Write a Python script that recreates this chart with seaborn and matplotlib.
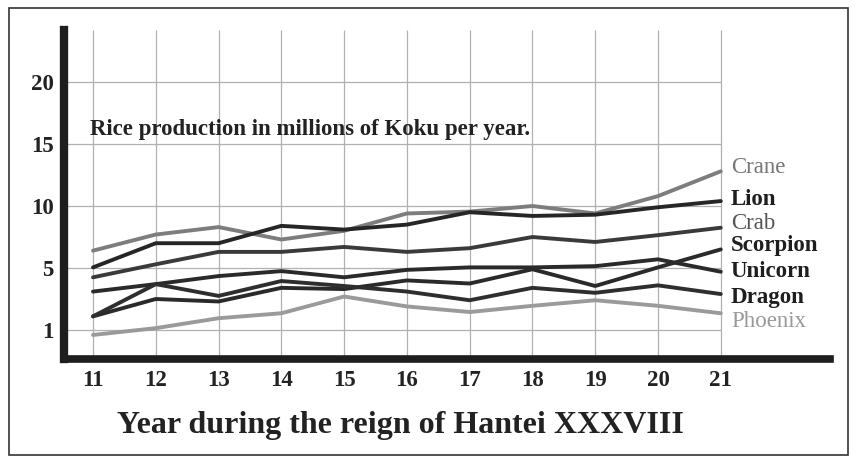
import pandas as pd
import matplotlib.pyplot as plt
import seaborn as sns
from matplotlib.patches import Rectangle

# years of the reign
years = [11, 12, 13, 14, 15, 16, 17, 18, 19, 20, 21]
crane = [6.4, 7.7, 8.3, 7.3, 8.0, 9.4, 9.55, 10.0, 9.4, 10.8, 12.8]
lion = [5.05, 7.0, 7.0, 8.4, 8.1, 8.5, 9.5, 9.2, 9.3, 9.9, 10.4]
crab = [4.25, 5.3, 6.3, 6.3, 6.7, 6.3, 6.6, 7.5, 7.1, 7.65, 8.25]
scorpion = [1.1, 2.5, 2.3, 3.4, 3.3, 4.0, 3.75, 4.9, 3.55, 5.05, 6.5]
unicorn = [3.1, 3.7, 4.35, 4.75, 4.25, 4.85, 5.05, 5.05, 5.15, 5.7, 4.7]
dragon = [1.1, 3.7, 2.75, 3.95, 3.55, 3.1, 2.4, 3.4, 3.0, 3.6, 2.9]
phoenix = [-0.4, 0.15, 0.95, 1.35, 2.7, 1.9, 1.45, 1.95, 2.4, 1.95, 1.35]

clans = ["Crane", "Lion", "Crab", "Scorpion", "Unicorn", "Dragon", "Phoenix"]
series = [crane, lion, crab, scorpion, unicorn, dragon, phoenix]

ytick_pos = [0, 5, 10, 15, 20]
ytick_labels = ["1", "5", "10", "15", "20"]

rows = []
for clan, vals in zip(clans, series):
    for yr, v in zip(years, vals):
        rows.append({"Year": yr, "Koku": v, "Clan": clan})
df = pd.DataFrame(rows)

line_colors = {"Crane": "#7d7d7d", "Lion": "#262626", "Crab": "#3a3a3a", "Scorpion": "#2a2a2a",
               "Unicorn": "#2a2a2a", "Dragon": "#2e2e2e", "Phoenix": "#9a9a9a"}
text_colors = {"Crane": "#777777", "Lion": "#1e1e1e", "Crab": "#555555", "Scorpion": "#1e1e1e",
               "Unicorn": "#1e1e1e", "Dragon": "#1e1e1e", "Phoenix": "#999999"}
text_weight = {"Crane": "normal", "Lion": "bold", "Crab": "normal", "Scorpion": "bold",
               "Unicorn": "bold", "Dragon": "bold", "Phoenix": "normal"}
label_shift = {"Crane": 0.3, "Lion": 0.16, "Crab": 0.35, "Scorpion": 0.3,
               "Unicorn": 0.05, "Dragon": -0.24, "Phoenix": -0.7}

sns.set_style("white")
plt.rcParams['font.family'] = ['Liberation Serif', 'DejaVu Serif']

fig = plt.figure(figsize=(8.56, 4.63), dpi=100)
ax = fig.add_axes([63.5 / 856, 1 - 359 / 463, (830 - 63.5) / 856, (359 - 30) / 463])

xmin, xmax = 10.53, 22.74
ax.set_xlim(xmin, xmax)
ax.set_ylim(-2.34, 24.2)

# grid: vertical lines at each year, horizontal ones stop at the last year
ax.vlines(years, -2.34, 24.2, color="#b0b0b0", lw=0.9, zorder=0)
ax.hlines(ytick_pos, xmin, years[-1], color="#b0b0b0", lw=0.9, zorder=0)

sns.lineplot(data=df, x="Year", y="Koku", hue="Clan", palette=line_colors,
             linewidth=2.8, legend=False, ax=ax)

for clan, vals in zip(clans, series):
    ax.text(years[-1] + 0.16, vals[-1] + label_shift[clan], clan, fontsize=16.5,
            color=text_colors[clan], fontweight=text_weight[clan], va="center", ha="left")

ax.text(10.95, 15.7, "Rice production in millions of Koku per year.", fontsize=16.5,
        fontweight="bold", color="#222222", va="baseline", ha="left")

ax.set_xticks(years)
ax.set_xticklabels([str(y) for y in years], fontsize=16.5, fontweight="bold", color="#222222")
ax.set_yticks(ytick_pos)
ax.set_yticklabels(ytick_labels, fontsize=16.5, fontweight="bold", color="#222222")
ax.tick_params(axis="x", length=0, pad=8)
ax.tick_params(axis="y", length=0, pad=7)
ax.set_xlabel("")
ax.set_ylabel("")

for s in ["top", "right"]:
    ax.spines[s].set_visible(False)
ax.spines["left"].set_linewidth(6)
ax.spines["bottom"].set_linewidth(5.5)
ax.spines["left"].set_color("#1e1e1e")
ax.spines["bottom"].set_color("#1e1e1e")
ax.patch.set_alpha(0)

fig.text(400 / 856, 1 - 433 / 463, "Year during the reign of Hantei XXXVIII", fontsize=23,
         fontweight="bold", color="#222222", ha="center", va="baseline")

fig.patches.append(Rectangle((9 / 856, 8 / 463), (848 - 9) / 856, (455 - 8) / 463,
                             transform=fig.transFigure, fill=False, edgecolor="#333333", lw=1.2))

fig.savefig("out.png", dpi=100)
